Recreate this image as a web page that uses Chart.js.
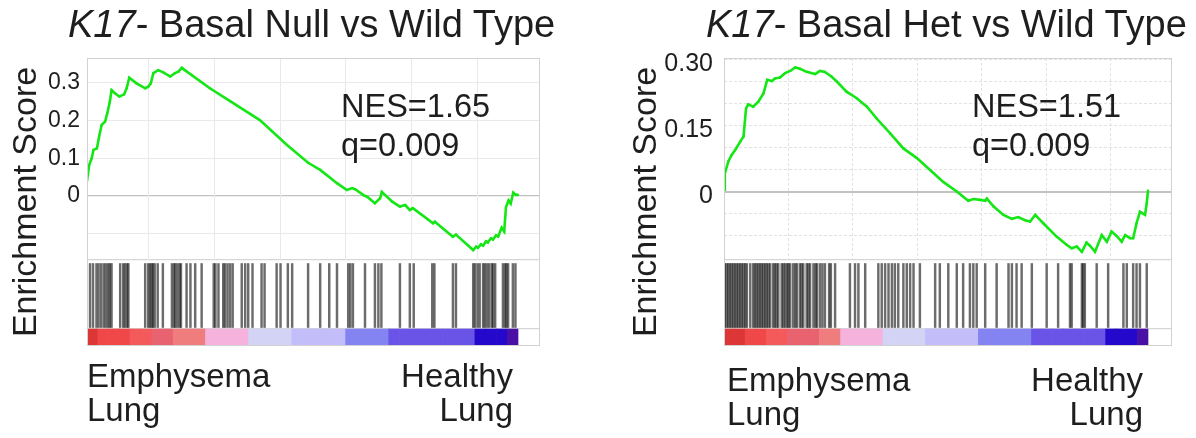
<!DOCTYPE html>
<html>
<head>
<meta charset="utf-8">
<script src="https://cdn.jsdelivr.net/npm/chart.js@4.4.1/dist/chart.umd.min.js"></script>
<style>
  html, body { margin: 0; padding: 0; background: #fff; }
  body { width: 1196px; height: 438px; position: relative; overflow: hidden;
         font-family: "Liberation Sans", Arial, sans-serif; color: #1e1e1e; }
  canvas { position: absolute; top: 0; }
  .title { position: absolute; top: 5px; font-size: 38px; line-height: 1; white-space: nowrap; }
  .stats { position: absolute; top: 87px; font-size: 32.5px; line-height: 39px; white-space: nowrap; }
  .pole { position: absolute; font-size: 33px; line-height: 34px; white-space: nowrap; }
  .pole.end { text-align: right; }
</style>
</head>
<body>
<canvas id="nullChart" width="598" height="438" style="left:0"></canvas>
<canvas id="hetChart" width="598" height="438" style="left:598px"></canvas>

<div class="title" style="left:68px"><i>K17</i>- Basal Null vs Wild Type</div>
<div class="title" style="left:706px"><i>K17</i>- Basal Het vs Wild Type</div>

<div class="stats" id="nullStats" style="left:341px"></div>
<div class="stats" id="hetStats" style="left:972px"></div>

<div class="pole" style="left:87px;top:359px">Emphysema<br>Lung</div>
<div class="pole end" style="right:683px;top:359px">Healthy<br>Lung</div>
<div class="pole" style="left:727px;top:363px">Emphysema<br>Lung</div>
<div class="pole end" style="right:53px;top:363px">Healthy<br>Lung</div>

<script>
// Positions along the ranked gene list are given in % of the list (0 = top, 100 = bottom).

// ---- K17 Basal Null vs Wild Type ----
const nullRank = [0, 0.5, 1.1, 1.5, 2.3, 2.8, 3.4, 4.2, 4.7, 5.3, 5.7, 6.5, 7.5, 8.6, 9.2,
  9.8, 11.5, 13.5, 14.2, 14.8, 15.4, 16.5, 17.7, 19.3, 20.4, 21.2, 22.0, 22.7, 28.5, 33.2,
  40.1, 46.4, 51.3, 54.1, 58.0, 60.3, 61.5, 62.2, 64.3, 65.0, 66.8, 68.0, 68.4, 70.8, 72.6,
  73.8, 74.9, 75.6, 80.3, 80.7, 84.9, 85.6, 89.6, 90.3, 90.7, 91.4, 91.9, 92.6, 93.0, 93.7,
  94.2, 94.9, 95.4, 96.2, 96.8, 97.2, 97.8, 98.3, 98.9, 99.5, 100];
const nullES = [0.040, 0.082, 0.100, 0.122, 0.126, 0.157, 0.188, 0.197, 0.219, 0.249, 0.280,
  0.272, 0.263, 0.269, 0.285, 0.313, 0.298, 0.285, 0.289, 0.298, 0.325, 0.333, 0.327, 0.316,
  0.325, 0.329, 0.339, 0.333, 0.285, 0.251, 0.201, 0.135, 0.088, 0.069, 0.034, 0.016, 0.021,
  0.018, 0.001, -0.002, -0.019, -0.006, 0.011, -0.015, -0.028, -0.024, -0.037, -0.032, -0.072,
  -0.068, -0.108, -0.102, -0.143, -0.134, -0.137, -0.128, -0.131, -0.120, -0.123, -0.112,
  -0.115, -0.104, -0.107, -0.084, -0.094, -0.030, -0.012, -0.020, 0.009, 0.003, 0.003];
const nullHits = [0.7, 1.4, 2.2, 2.7, 3.3, 3.9, 4.4, 4.9, 5.3, 5.7, 7.7, 8.4, 8.8, 9.3, 9.6,
  13.5, 14.2, 14.6, 15.0, 15.3, 15.7, 16.4, 17.6, 19.7, 20.2, 20.5, 21.0, 21.5, 21.8, 23.1,
  24.0, 25.1, 26.6, 29.4, 29.8, 30.5, 31.6, 32.0, 32.6, 33.2, 33.8, 35.9, 36.7, 37.4, 38.4,
  40.5, 41.2, 44.0, 44.9, 46.6, 47.6, 51.3, 54.1, 56.2, 58.0, 60.6, 61.1, 61.7, 64.5, 66.8,
  67.6, 68.3, 72.6, 74.9, 75.8, 80.1, 80.6, 84.9, 85.6, 89.6, 90.0, 90.6, 91.1, 91.9, 92.3,
  92.8, 93.3, 93.9, 94.2, 94.7, 96.5, 97.0, 97.3, 97.7, 98.8, 99.4];
// ranked metric, averaged over 40 equal bins of the list
const nullMetric = [1.6, 1.3, 1.3, 1.3, 1.1, 1.1, 0.95, 0.95, 0.8, 0.8, 0.8, 0.5, 0.5, 0.5,
  0.5, 0.2, 0.2, 0.2, 0.2, -0.1, -0.1, -0.1, -0.1, -0.1, -0.4, -0.4, -0.4, -0.4, -0.7, -0.7,
  -0.7, -0.7, -0.7, -0.7, -0.7, -0.7, -1.0, -1.0, -1.0, -1.4];
const nullTickValues = [0, 0.1, 0.2, 0.3];
const nullTickLabels = ['0', '0.1', '0.2', '0.3'];
const nullStats = ['NES=1.65', 'q=0.009'];

// ---- K17 Basal Het vs Wild Type ----
const hetRank = [0, 0.2, 1.0, 1.8, 2.6, 3.8, 4.6, 5.2, 5.7, 6.9, 8.1, 9.3, 10.2, 11.3, 12.0,
  13.2, 14.4, 15.6, 16.8, 17.9, 19.5, 21.5, 22.6, 23.8, 25.4, 26.6, 28.9, 31.3, 33.7, 36.0,
  39.2, 42.3, 45.5, 48.6, 51.7, 54.9, 57.6, 58.8, 60.4, 61.6, 62.0, 63.6, 65.9, 67.9, 69.4,
  71.0, 72.2, 73.4, 75.3, 78.5, 80.8, 82.0, 83.2, 84.4, 85.5, 86.3, 87.5, 89.1, 90.3, 91.4,
  92.6, 93.8, 94.6, 95.8, 96.5, 97.3, 98.1, 99.3, 99.7, 100];
const hetES = [0.005, 0.042, 0.069, 0.084, 0.095, 0.114, 0.126, 0.190, 0.199, 0.194, 0.205,
  0.224, 0.255, 0.252, 0.258, 0.260, 0.270, 0.275, 0.283, 0.280, 0.273, 0.268, 0.275, 0.273,
  0.262, 0.251, 0.228, 0.213, 0.194, 0.167, 0.133, 0.099, 0.077, 0.050, 0.023, 0.001, -0.020,
  -0.016, -0.018, -0.020, -0.015, -0.033, -0.052, -0.061, -0.057, -0.064, -0.067, -0.052,
  -0.071, -0.102, -0.120, -0.128, -0.124, -0.136, -0.115, -0.122, -0.136, -0.098, -0.113,
  -0.090, -0.100, -0.113, -0.098, -0.105, -0.105, -0.071, -0.045, -0.052, -0.026, 0.003];
const hetHits = [0.2, 0.6, 1.0, 1.4, 1.8, 2.2, 2.6, 3.0, 3.4, 3.8, 4.2, 4.6, 5.0, 5.4, 6.2,
  6.9, 7.3, 7.7, 8.1, 8.5, 8.9, 9.3, 9.7, 10.1, 10.5, 10.9, 11.6, 12.0, 12.4, 12.8, 13.6,
  14.0, 14.4, 14.9, 15.2, 15.6, 16.3, 16.8, 17.2, 17.9, 18.3, 18.7, 19.5, 19.9, 20.3, 21.1,
  21.6, 21.9, 22.6, 23.2, 23.8, 24.8, 25.2, 26.2, 29.7, 30.9, 31.7, 33.3, 36.4, 37.2, 38.0,
  38.8, 39.6, 40.3, 41.1, 42.3, 43.1, 43.9, 44.7, 46.2, 49.8, 50.9, 52.9, 54.9, 56.4, 58.0,
  58.8, 59.6, 61.6, 64.3, 67.1, 67.9, 69.0, 70.2, 72.6, 76.1, 78.8, 81.6, 82.0, 84.4, 84.7,
  85.1, 87.9, 90.6, 94.2, 95.0, 96.5, 97.3, 98.1, 99.7];
const hetMetric = [1.6, 1.6, 1.3, 1.3, 1.1, 1.1, 0.95, 0.95, 0.95, 0.8, 0.8, 0.5, 0.5, 0.5,
  0.5, 0.2, 0.2, 0.2, 0.2, -0.1, -0.1, -0.1, -0.1, -0.1, -0.4, -0.4, -0.4, -0.4, -0.4, -0.7,
  -0.7, -0.7, -0.7, -0.7, -0.7, -0.7, -1.0, -1.0, -1.0, -1.4];
const hetTickValues = [0, 0.15, 0.30];
const hetTickLabels = ['0', '0.15', '0.30'];
const hetStats = ['NES=1.51', 'q=0.009'];

// GSEA-style heat colours for the ranked metric (high = red, low = blue)
const metricSteps = [
  [1.5, '#dc3636'], [1.2, '#f04848'], [1.05, '#f45a5a'], [0.9, '#e8626f'], [0.7, '#f07d7d'],
  [0.35, '#f5b2dc'], [0.05, '#d3d3f6'], [-0.25, '#c3befa'], [-0.55, '#8383f2'],
  [-0.85, '#6a54e8'], [-1.2, '#2408cc'], [-Infinity, '#4a10a6']
];
function metricColour(v) {
  for (const [limit, colour] of metricSteps) if (v >= limit) return colour;
  return metricSteps[metricSteps.length - 1][1];
}

Chart.defaults.font.family = '"Liberation Sans", Arial, sans-serif';
Chart.defaults.color = '#1e1e1e';

function decorPlugin(L) {
  return {
    id: 'panelDecor',
    beforeDatasetsDraw(chart) {
      const { ctx, scales: { x, y } } = chart;
      const top = y.getPixelForValue(y.max);
      const bottom = y.getPixelForValue(L.esFloor);
      ctx.save();
      ctx.strokeStyle = L.gridColor;
      ctx.lineWidth = 1;
      ctx.setLineDash(L.dash);
      for (const v of L.xGrid) {
        const px = Math.round(x.getPixelForValue(v)) + 0.5;
        ctx.beginPath();
        ctx.moveTo(px, top);
        ctx.lineTo(px, bottom);
        ctx.stroke();
      }
      ctx.restore();
    },
    afterDatasetsDraw(chart) {
      const { ctx, chartArea: a } = chart;
      ctx.save();
      ctx.strokeStyle = '#d2d2d2';
      ctx.lineWidth = 1;
      ctx.strokeRect(a.left + 0.5, a.top + 0.5, a.width - 1, a.height - 1);
      ctx.restore();
    }
  };
}

function drawPanel(id, rank, es, hits, metric, tickValues, tickLabels, L) {
  const binWidth = 100 / metric.length;
  const near = (a, b) => Math.abs(a - b) < 1e-6;
  new Chart(document.getElementById(id), {
    type: 'bar',
    data: {
      datasets: [
        {
          type: 'line',
          label: 'Enrichment score',
          data: rank.map((r, i) => ({ x: r, y: es[i] })),
          xAxisID: 'x', yAxisID: 'y',
          borderColor: '#15e615',
          borderWidth: 2.6,
          pointStyle: 'rect',
          pointRadius: 1.5,
          pointBorderWidth: 0,
          pointBackgroundColor: '#15e615',
          tension: 0,
          order: 0
        },
        {
          label: 'Hits',
          data: hits.map(r => ({ x: r, y: [L.hitLow, L.hitHigh] })),
          xAxisID: 'x', yAxisID: 'y',
          backgroundColor: 'rgba(10,10,10,0.6)',
          borderWidth: 0,
          barThickness: 1.8,
          grouped: false,
          order: 1
        },
        {
          label: 'Ranked metric',
          data: metric.map((m, i) => ({ x: (i + 0.5) * binWidth, y: [L.barLow, L.barHigh] })),
          xAxisID: 'xBar', yAxisID: 'y',
          backgroundColor: metric.map(metricColour),
          borderWidth: 0,
          barPercentage: 1,
          categoryPercentage: 1,
          grouped: false,
          order: 2
        }
      ]
    },
    options: {
      responsive: false,
      animation: false,
      events: [],
      layout: { padding: L.padding },
      plugins: { legend: { display: false }, tooltip: { enabled: false }, title: { display: false } },
      scales: {
        x: { type: 'linear', min: 0, max: L.xMax, offset: false, display: false },
        xBar: { type: 'linear', min: 0, max: L.xMax, offset: false, display: false },
        y: {
          type: 'linear', position: 'left', min: L.yMin, max: L.yMax,
          afterFit: s => { s.width = L.axisWidth; },
          afterBuildTicks: s => { s.ticks = L.yGrid.map(v => ({ value: v })); },
          border: { display: false, dash: L.dash },
          grid: {
            drawTicks: false,
            color: c => (near(c.tick.value, 0) ? 'rgba(0,0,0,0)' : L.gridColor),
            lineWidth: 1
          },
          ticks: {
            autoSkip: false,
            padding: L.tickPad,
            labelOffset: L.labelOffset,
            color: '#1e1e1e',
            font: { size: L.tickSize },
            callback: v => {
              const i = tickValues.findIndex(t => near(t, v));
              return i < 0 ? '' : tickLabels[i];
            }
          },
          title: {
            display: true,
            text: 'Enrichment Score',
            color: '#1e1e1e',
            font: { size: 34 },
            padding: { top: L.titlePad, bottom: 0 }
          }
        },
        yFrame: {
          type: 'linear', position: 'right', min: L.yMin, max: L.yMax,
          afterFit: s => { s.width = 0; },
          afterBuildTicks: s => { s.ticks = [0, L.esFloor, L.barTop].map(v => ({ value: v })); },
          border: { display: false },
          ticks: { display: false },
          grid: {
            drawTicks: false,
            color: c => (near(c.tick.value, 0) ? '#c2c2c2' : '#d6d6d6'),
            lineWidth: c => (near(c.tick.value, 0) ? L.zeroWidth : 1.2)
          }
        }
      }
    },
    plugins: [decorPlugin(L)]
  });
}

drawPanel('nullChart', nullRank, nullES, nullHits, nullMetric, nullTickValues, nullTickLabels, {
  padding: { left: 0, top: 58, right: 58, bottom: 92 },
  axisWidth: 87, tickPad: 7, tickSize: 23, labelOffset: 0, titlePad: 6,
  xMax: 105.1, yMin: -0.3968, yMax: 0.3651,
  yGrid: [-0.1, 0, 0.1, 0.2, 0.3],
  esFloor: -0.1693, hitHigh: -0.1786, hitLow: -0.3479, barTop: -0.3505,
  barHigh: -0.3519, barLow: -0.3942,
  xGrid: [14.2, 29.4, 44.7, 59.9, 75.2, 90.4],
  gridColor: '#e9e9e9', dash: [], zeroWidth: 1.2
});

drawPanel('hetChart', hetRank, hetES, hetHits, hetMetric, hetTickValues, hetTickLabels, {
  padding: { left: 0, top: 58, right: 24, bottom: 92 },
  axisWidth: 126, tickPad: 11, tickSize: 25, labelOffset: 4, titlePad: 28,
  xMax: 105.66, yMin: -0.35, yMax: 0.3045,
  yGrid: [-0.10, -0.05, 0, 0.05, 0.10, 0.15, 0.20, 0.25, 0.30],
  esFloor: -0.1545, hitHigh: -0.1625, hitLow: -0.308, barTop: -0.3102,
  barHigh: -0.3114, barLow: -0.3477,
  xGrid: [15.2, 30.3, 45.5, 60.7, 75.9, 91.0],
  gridColor: '#e2e2e2', dash: [3, 2], zeroWidth: 2
});

document.getElementById('nullStats').innerHTML = nullStats.join('<br>');
document.getElementById('hetStats').innerHTML = hetStats.join('<br>');
</script>
</body>
</html>
